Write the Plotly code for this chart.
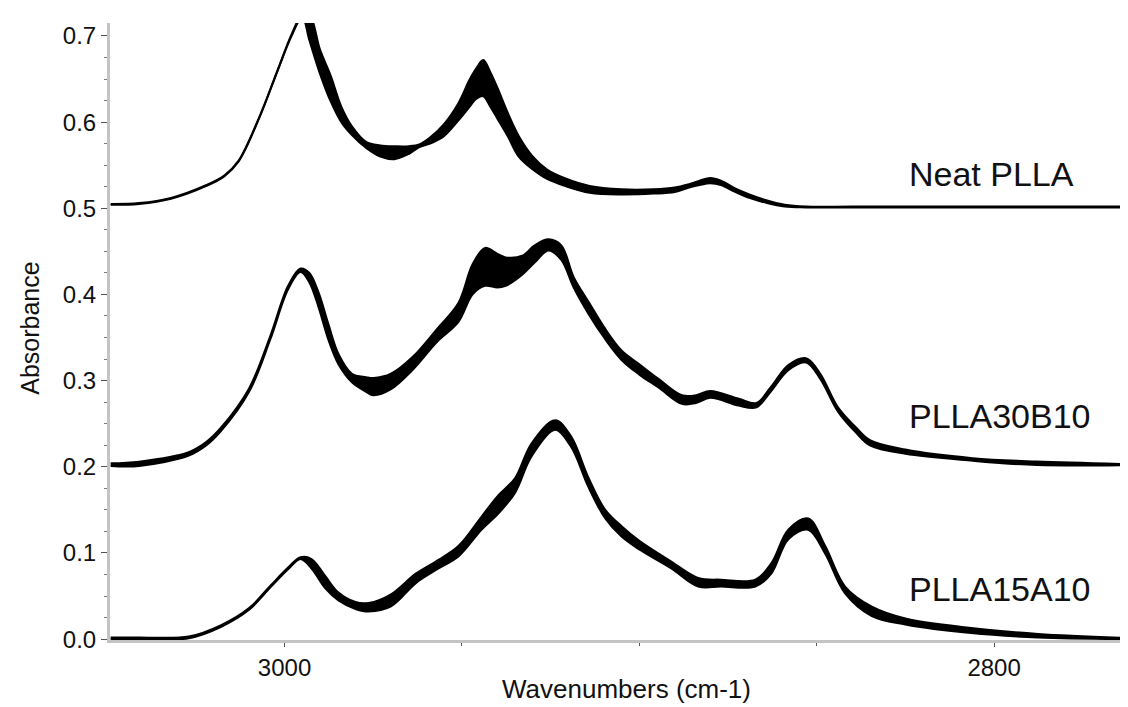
import plotly.graph_objects as go

# ---------------- data ----------------
# Neat PLLA band: upper and lower envelope of the overlapping spectra
TOP_WN = [3049, 3041, 3032, 3022, 3017, 3013, 3007, 3002, 2998, 2995, 2993,
          2990, 2987, 2984, 2981, 2977, 2973, 2969, 2965, 2962, 2959,
          2955, 2951, 2948, 2946, 2944, 2942, 2940, 2937, 2934, 2930,
          2926, 2921, 2914, 2905, 2896, 2890, 2886, 2883, 2880, 2877,
          2873, 2869, 2864, 2859, 2853, 2840, 2820, 2800, 2780, 2760]
TOP_UP = [0.505, 0.506, 0.512, 0.527, 0.538, 0.555, 0.607, 0.660, 0.702, 0.725, 0.725,
          0.684, 0.654, 0.618, 0.595, 0.577, 0.573, 0.572, 0.572, 0.574, 0.582,
          0.598, 0.622, 0.648, 0.662, 0.672, 0.658, 0.640, 0.610, 0.584, 0.560,
          0.545, 0.535, 0.526, 0.522, 0.522, 0.524, 0.528, 0.532, 0.535, 0.532,
          0.523, 0.516, 0.509, 0.504, 0.502, 0.502, 0.502, 0.502, 0.502, 0.502]
TOP_LO = [0.504, 0.505, 0.511, 0.526, 0.537, 0.554, 0.606, 0.659, 0.700, 0.722, 0.695,
          0.656, 0.624, 0.600, 0.585, 0.570, 0.560, 0.557, 0.563, 0.571, 0.575,
          0.584, 0.602, 0.617, 0.627, 0.630, 0.618, 0.604, 0.583, 0.560, 0.545,
          0.534, 0.526, 0.518, 0.516, 0.517, 0.519, 0.524, 0.527, 0.529, 0.527,
          0.519, 0.512, 0.506, 0.502, 0.501, 0.501, 0.501, 0.501, 0.501, 0.501]

# PLLA30B10 band
MID_WN = [3049, 3041, 3027, 3022, 3018, 3010, 3004, 2999, 2995.5, 2993, 2990.4,
          2987.6, 2984.8, 2981, 2977, 2975, 2970, 2964, 2957, 2951, 2947,
          2943.5, 2940, 2937.7, 2933, 2929.5, 2925.6, 2922, 2918.5, 2914.4, 2909.6,
          2905, 2900, 2894.6, 2888, 2884, 2880, 2872, 2867, 2863, 2858,
          2853, 2849, 2844, 2839, 2835, 2825, 2806, 2788, 2760]
MID_UP = [0.204, 0.206, 0.217, 0.229, 0.245, 0.291, 0.352, 0.410, 0.430, 0.425, 0.402,
          0.365, 0.331, 0.308, 0.304, 0.303, 0.308, 0.327, 0.360, 0.390, 0.435,
          0.454, 0.447, 0.443, 0.445, 0.457, 0.464, 0.457, 0.420, 0.392, 0.360,
          0.335, 0.319, 0.302, 0.283, 0.283, 0.288, 0.279, 0.274, 0.292, 0.318,
          0.326, 0.308, 0.269, 0.246, 0.231, 0.220, 0.210, 0.206, 0.203]
MID_LO = [0.201, 0.201, 0.213, 0.225, 0.241, 0.287, 0.348, 0.406, 0.426, 0.414, 0.385,
          0.347, 0.319, 0.298, 0.287, 0.283, 0.290, 0.312, 0.345, 0.368, 0.400,
          0.410, 0.408, 0.410, 0.423, 0.437, 0.451, 0.440, 0.408, 0.378, 0.348,
          0.324, 0.307, 0.292, 0.273, 0.274, 0.280, 0.271, 0.269, 0.287, 0.312,
          0.321, 0.302, 0.264, 0.240, 0.225, 0.215, 0.207, 0.202, 0.202]

# PLLA15A10 band
BOT_WN = [3049, 3041, 3027, 3018, 3010, 3004, 2999, 2995.5, 2992.4, 2988.5,
          2984.8, 2980, 2976.3, 2970, 2963, 2956.6, 2951, 2944.5, 2939.7, 2935,
          2930.4, 2923.7, 2919.2, 2914.4, 2909.6, 2905, 2900, 2891, 2883.4, 2877,
          2867.3, 2862.8, 2858, 2852.4, 2847.6, 2842, 2834.6, 2825, 2806.5, 2787.6,
          2760]
BOT_UP = [0.002, 0.002, 0.003, 0.016, 0.036, 0.062, 0.083, 0.095, 0.093, 0.073,
          0.054, 0.043, 0.042, 0.052, 0.076, 0.092, 0.108, 0.142, 0.167, 0.187,
          0.227, 0.254, 0.235, 0.188, 0.150, 0.131, 0.114, 0.090, 0.071, 0.069,
          0.069, 0.088, 0.127, 0.140, 0.108, 0.061, 0.038, 0.024, 0.013, 0.006,
          0.001]
BOT_LO = [0.000, 0.000, 0.001, 0.014, 0.034, 0.060, 0.081, 0.093, 0.082, 0.059,
          0.045, 0.035, 0.032, 0.038, 0.065, 0.082, 0.096, 0.127, 0.146, 0.170,
          0.212, 0.243, 0.223, 0.177, 0.140, 0.119, 0.104, 0.082, 0.061, 0.061,
          0.061, 0.076, 0.116, 0.127, 0.099, 0.053, 0.027, 0.017, 0.007, 0.002,
          0.000]

SAMPLE_NAMES = ["Neat PLLA", "PLLA30B10", "PLLA15A10"]
X_TICKS = [3000, 2800]
X_MINOR = [2950, 2900, 2850]
X_TITLE = "Wavenumbers (cm-1)"
Y_TITLE = "Absorbance"

# ---------------- figure ----------------
FONT = "Liberation Sans, Arial, Helvetica, sans-serif"
fig = go.Figure()

groups = [(TOP_WN, TOP_UP, TOP_LO), (MID_WN, MID_UP, MID_LO), (BOT_WN, BOT_UP, BOT_LO)]
for name, (wn, up, lo) in zip(SAMPLE_NAMES, groups):
    fig.add_trace(go.Scatter(x=wn, y=lo, mode="lines", name=name + " (min)",
                             line=dict(color="black", width=2, shape="spline", smoothing=1.0),
                             hoverinfo="skip"))
    fig.add_trace(go.Scatter(x=wn, y=up, mode="lines", name=name + " (max)",
                             line=dict(color="black", width=2, shape="spline", smoothing=1.0),
                             fill="tonexty", fillcolor="black", hoverinfo="skip"))

axis_common = dict(showline=True, linecolor="#c4c4c4", linewidth=3, showgrid=False,
                   zeroline=False, ticks="outside", tickcolor="#555", tickwidth=1,
                   tickfont=dict(family=FONT, size=24, color="#111"))

fig.update_xaxes(range=[3049.2, 2760], tickmode="array", tickvals=X_TICKS, ticklen=4,
                 minor=dict(tickmode="array", tickvals=X_MINOR, ticks="outside",
                            ticklen=3, tickcolor="#555"),
                 **axis_common)
fig.update_yaxes(range=[-0.001, 0.715], tick0=0, dtick=0.1, tickformat=".1f", ticklen=6,
                 minor=dict(dtick=0.025, tick0=0, ticks="outside", ticklen=3, tickcolor="#777"),
                 **axis_common)

annos = [
    dict(text=X_TITLE, x=0.503, y=-0.080, textangle=0, size=26),
    dict(text=Y_TITLE, x=-0.078, y=0.506, textangle=-90, size=25),
]
for a in annos:
    fig.add_annotation(text=a["text"], xref="paper", yref="paper", x=a["x"], y=a["y"],
                       xanchor="center", yanchor="middle", textangle=a["textangle"],
                       showarrow=False, font=dict(family=FONT, size=a["size"], color="#111"))

label_pos = [0.7553, 0.3630, 0.0827]
for name, yp in zip(SAMPLE_NAMES, label_pos):
    fig.add_annotation(text=name, xref="paper", yref="paper", x=0.777, y=yp,
                       xanchor="left", yanchor="middle", showarrow=False,
                       font=dict(family=FONT, size=34, color="#111"))

fig.update_layout(width=1128, height=707, margin=dict(l=102, r=0, t=15, b=75),
                  plot_bgcolor="white", paper_bgcolor="white", showlegend=False)

fig.write_html("out.html")
